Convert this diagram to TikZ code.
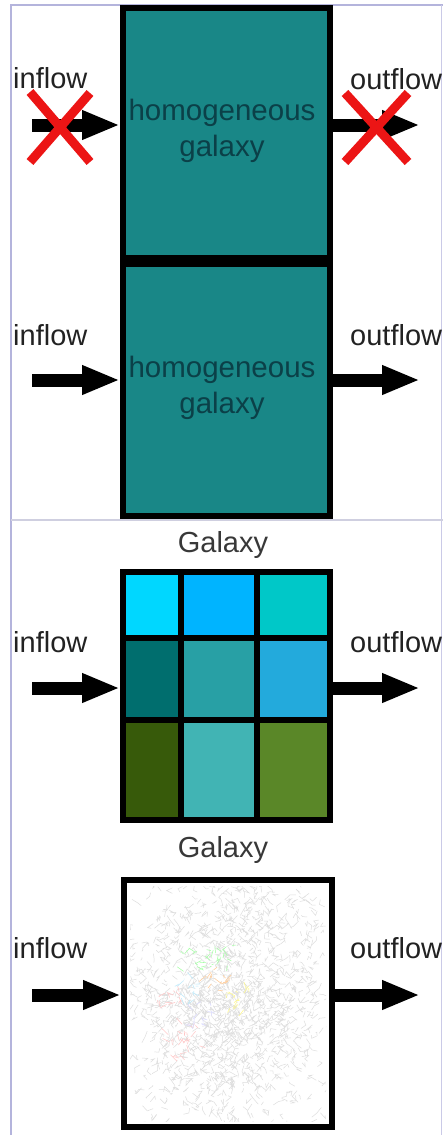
\documentclass[tikz,border=0pt]{standalone}
\usepackage{fontspec}
\setmainfont{Liberation Sans}
\usetikzlibrary{arrows.meta}

\definecolor{framecol}{HTML}{B4B4DC}
\definecolor{sepcol}{HTML}{CFCFE0}
\definecolor{tealfill}{HTML}{198787}
\definecolor{tealtext}{HTML}{0B4048}
\definecolor{txtcol}{HTML}{222222}
\definecolor{galcol}{HTML}{383838}
\definecolor{crosscol}{HTML}{EC1515}
% cell colours of the grid galaxy
\definecolor{cA}{HTML}{00D7FF}
\definecolor{cB}{HTML}{00B4FF}
\definecolor{cC}{HTML}{00C8C8}
\definecolor{cD}{HTML}{006E6E}
\definecolor{cE}{HTML}{28A0A5}
\definecolor{cF}{HTML}{23AADC}
\definecolor{cG}{HTML}{375A0A}
\definecolor{cH}{HTML}{41B4B4}
\definecolor{cI}{HTML}{5A8728}

\begin{document}
\begin{tikzpicture}[x=1pt,y=-1pt,
  flowtext/.style={font=\fontsize{29}{36}\selectfont, text=txtcol, inner sep=0pt, anchor=base west},
  galtext/.style={font=\fontsize{29}{36}\selectfont, text=galcol, inner sep=0pt, anchor=base},
  boxtext/.style={font=\fontsize{29.5}{36}\selectfont, text=tealtext, inner sep=0pt, align=center},
  galbox/.style={draw=black, line width=6pt, inner sep=0pt, rectangle},
  flow/.style={line width=13pt, -{Triangle[length=38pt 0 0, width=27pt 0 0]}},
  cross/.style={crosscol, line width=9pt},
  cellline/.style={black, line width=6pt}
]
\useasboundingbox (0,0) rectangle (443,1135);
\clip (0,0) rectangle (443,1135);

% frame and separator
\draw[framecol, line width=1.2pt] (11,1135) -- (11,5) -- (443,5);
\draw[framecol!70, line width=1pt] (441.5,5) -- (441.5,1135);
\draw[sepcol, line width=1.2pt] (11,520) -- (443,520);

% ---------- homogeneous galaxy, closed ----------
\node[galbox, fill=tealfill, minimum width=207pt, minimum height=250pt] (box1) at (226.5,133) {};
\node[boxtext] (t1) at (222,131) {homogeneous\\galaxy};
\node[flowtext] (in1lab) at (13,88) {inflow};
\node[flowtext] (out1lab) at (350,89) {outflow};
\coordinate (in1) at (32,125);
\coordinate (out1) at (420,125);
\draw[flow] (in1) -- (box1.west |- in1);
\draw[flow] (box1.east |- out1) -- (out1);
\draw[cross] (30,92) -- (90,162) (90,93) -- (30,162);
\draw[cross] (345,93) -- (408,162) (408,93) -- (345,162);

% ---------- homogeneous galaxy, open ----------
\node[galbox, fill=tealfill, minimum width=207pt, minimum height=252pt] (box2) at (226.5,390) {};
\node[boxtext] (t2) at (222,388) {homogeneous\\galaxy};
\node[flowtext] (in2lab) at (13,345) {inflow};
\node[flowtext] (out2lab) at (350,345) {outflow};
\coordinate (in2) at (32,380);
\coordinate (out2) at (420,380);
\draw[flow] (in2) -- (box2.west |- in2);
\draw[flow] (box2.east |- out2) -- (out2);

% ---------- zoned galaxy ----------
\node[galtext] (gal3) at (223,552) {Galaxy};
\fill[cA] (123,572) rectangle (181,638);
\fill[cB] (181,572) rectangle (257,638);
\fill[cC] (257,572) rectangle (330,638);
\fill[cD] (123,638) rectangle (181,720);
\fill[cE] (181,638) rectangle (257,720);
\fill[cF] (257,638) rectangle (330,720);
\fill[cG] (123,720) rectangle (181,820);
\fill[cH] (181,720) rectangle (257,820);
\fill[cI] (257,720) rectangle (330,820);
\draw[cellline] (181,572) -- (181,820) (257,572) -- (257,820)
                (123,638) -- (330,638) (123,720) -- (330,720);
\node[galbox, minimum width=207pt, minimum height=248pt] (box3) at (226.5,696) {};
\node[flowtext] (in3lab) at (13,652) {inflow};
\node[flowtext] (out3lab) at (350,652) {outflow};
\coordinate (in3) at (32,688);
\coordinate (out3) at (420,688);
\draw[flow] (in3) -- (box3.west |- in3);
\draw[flow] (box3.east |- out3) -- (out3);

% ---------- particle-network galaxy ----------
\node[galtext] (gal4) at (223,857) {Galaxy};
\node[galbox, fill=white, minimum width=208pt, minimum height=247pt] (box4) at (228,1003.5) {};
\begin{scope}
  \clip (130,886) rectangle (326,1121);
  \pgfmathsetseed{4242}
  % faint web of particle tracks, denser toward the middle
  \foreach \i in {1,...,1400}{
    \pgfmathsetmacro{\px}{228+60*(rand+rand)}
    \pgfmathsetmacro{\py}{1003+70*(rand+rand)}
    \pgfmathsetmacro{\qx}{\px+6*rand}
    \pgfmathsetmacro{\qy}{\py+6*rand}
    \pgfmathsetmacro{\rx}{\qx+6*rand}
    \pgfmathsetmacro{\ry}{\qy+6*rand}
    \draw[black!13, line width=0.5pt] (\px,\py) -- (\qx,\qy) -- (\rx,\ry);
  }
  \foreach \c/\cx/\cy in {green!35!white/195/960, green!35!white/222/955, orange!40/214/982,
                          red!22/168/1000, red!22/188/1035, cyan!25/190/990,
                          yellow!45/238/1000, blue!14/200/1015, red!20/180/1045}{
    \foreach \k in {1,...,14}{
      \pgfmathsetmacro{\px}{\cx+12*rand}
      \pgfmathsetmacro{\py}{\cy+12*rand}
      \pgfmathsetmacro{\qx}{\px+7*rand}
      \pgfmathsetmacro{\qy}{\py+7*rand}
      \draw[\c, line width=0.55pt] (\px,\py) -- (\qx,\qy);
    }
  }
\end{scope}
\node[galbox, minimum width=208pt, minimum height=247pt] (box4edge) at (228,1003.5) {};
\node[flowtext] (in4lab) at (13,958) {inflow};
\node[flowtext] (out4lab) at (350,958) {outflow};
\coordinate (in4) at (32,995);
\coordinate (out4) at (420,995);
\draw[flow] (in4) -- (box4.west |- in4);
\draw[flow] (box4.east |- out4) -- (out4);
\end{tikzpicture}
\end{document}
